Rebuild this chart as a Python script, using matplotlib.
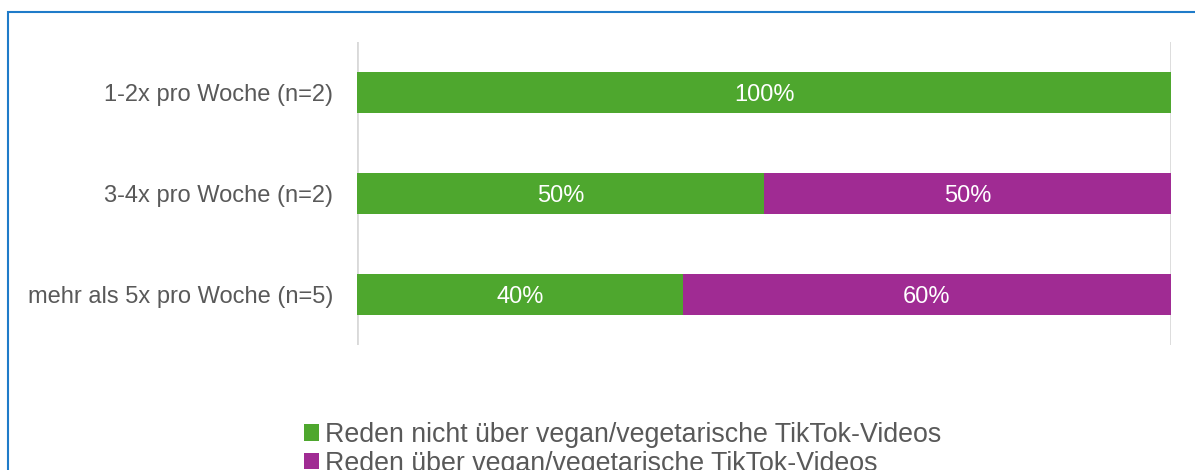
import matplotlib.pyplot as plt
from matplotlib.patches import Rectangle

categories = ["1-2x pro Woche (n=2)", "3-4x pro Woche (n=2)", "mehr als 5x pro Woche (n=5)"]
nicht_reden = [1.00, 0.50, 0.40]
reden = [0.00, 0.50, 0.60]
series_names = ["Reden nicht über vegan/vegetarische TikTok-Videos",
                "Reden über vegan/vegetarische TikTok-Videos"]

green = "#4EA72E"
purple = "#A02B93"
grey_text = "#595959"

plt.rcParams['font.family'] = ['Liberation Sans', 'DejaVu Sans']

W, H = 1195, 470
fig = plt.figure(figsize=(W / 100, H / 100), dpi=100)
ax = fig.add_axes([357 / W, 1 - 345 / H, (1171 - 357) / W, (345 - 42) / H])

y = list(range(len(categories)))
b1 = ax.barh(y, nicht_reden, height=0.4, color=green, label=series_names[0])
b2 = ax.barh(y, reden, left=nicht_reden, height=0.4, color=purple, label=series_names[1])

for vals, lefts in ((nicht_reden, [0, 0, 0]), (reden, nicht_reden)):
    for i, v in enumerate(vals):
        if v > 0:
            ax.text(lefts[i] + v / 2, y[i], "{:.0f}%".format(v * 100), color="white",
                    ha="center", va="center_baseline", fontsize=17)

ax.axvline(0, color="#D9D9D9", lw=2, zorder=0)
ax.axvline(1, color="#D9D9D9", lw=2, zorder=0)

ax.set_xlim(0, 1)
ax.set_ylim(2.5, -0.5)
ax.set_yticks(y)
ax.set_yticklabels(categories, fontsize=17, color=grey_text)
ax.set_xticks([])
ax.tick_params(axis="y", length=0, pad=17)
for s in ax.spines.values():
    s.set_visible(False)

leg = fig.legend(loc="upper left", bbox_to_anchor=(304 / W, 1 - 422 / H), frameon=False,
                 fontsize=19.3, handlelength=0.55, handleheight=0.55, handletextpad=0.25,
                 labelspacing=0.1, borderpad=0, borderaxespad=0)
for t in leg.get_texts():
    t.set_color(grey_text)

fig.patches.append(Rectangle((8 / W, -0.1), 1.1, 1 - 12 / H + 0.1, transform=fig.transFigure,
                             fill=False, edgecolor="#1F7BC9", lw=1.5))

fig.savefig("out.png", dpi=100)
